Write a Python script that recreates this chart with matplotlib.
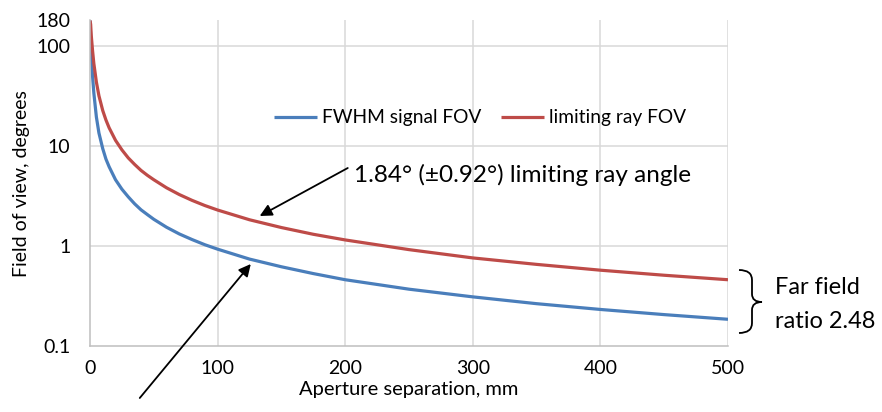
import matplotlib.pyplot as plt
from matplotlib.path import Path
from matplotlib.patches import PathPatch

# aperture separation, mm
sep = [0, 0.5, 1, 2, 3, 5, 7, 10, 12.5, 15, 20, 25, 30, 35, 40, 45, 50, 60, 70,
       80, 90, 100, 125, 150, 175, 200, 250, 300, 350, 400, 450, 500]
# FOV values, degrees
fwhm_fov = [180, 125, 86, 50, 34, 19.5, 13.5, 9.4, 7.4, 6.2, 4.6, 3.7, 3.1,
            2.64, 2.3, 2.06, 1.85, 1.54, 1.32, 1.16, 1.03, 0.93, 0.74, 0.62,
            0.53, 0.46, 0.37, 0.31, 0.265, 0.232, 0.206, 0.185]
limit_fov = [180, 165, 127, 90, 67, 43.6, 31.8, 22.6, 18.2, 15.2, 11.4, 9.15,
             7.6, 6.54, 5.7, 5.09, 4.6, 3.82, 3.27, 2.86, 2.54, 2.29, 1.83,
             1.53, 1.31, 1.15, 0.92, 0.76, 0.655, 0.573, 0.51, 0.46]

yticks = [0.1, 1, 10, 100, 180]
ytick_labels = ["0.1", "1", "10", "100", "180"]
xticks = [0, 100, 200, 300, 400, 500]

plt.rcParams['font.family'] = ['Lato', 'DejaVu Sans']

W, H = 882, 412
fig = plt.figure(figsize=(W / 100, H / 100), dpi=100)
ax = fig.add_axes([90 / W, 1 - 346 / H, 638 / W, (346 - 20.5) / H])

blue = "#4a7ebb"
red = "#be4b48"
ax.plot(sep, fwhm_fov, color=blue, lw=2.3, label="FWHM signal FOV", solid_capstyle="butt")
ax.plot(sep, limit_fov, color=red, lw=2.3, label="limiting ray FOV", solid_capstyle="butt")

ax.set_yscale("log")
ax.set_ylim(0.1, 180)
ax.set_xlim(0, 500)
ax.set_yticks(yticks)
ax.set_yticklabels(ytick_labels)
ax.yaxis.set_minor_locator(plt.NullLocator())
ax.set_xticks(xticks)
ax.tick_params(length=0, labelsize=14, colors="#000000")
ax.tick_params(axis="y", pad=14)
ax.tick_params(axis="x", pad=10)

ax.grid(True, color="#d9d9d9", lw=1.1)
ax.set_axisbelow(True)
ax.yaxis.get_gridlines()[-1].set_visible(False)
ax.yaxis.get_gridlines()[0].set_visible(False)
ax.xaxis.get_gridlines()[0].set_visible(False)
for s in ["top", "right"]:
    ax.spines[s].set_visible(False)
for s in ["left", "bottom"]:
    ax.spines[s].set_color("#bfbfbf")
    ax.spines[s].set_linewidth(1.1)

ax.set_xlabel("Aperture separation, mm", fontsize=14.5, labelpad=3)
ax.set_ylabel("Field of view, degrees", fontsize=14, labelpad=5)

leg = fig.legend(loc="center", bbox_to_anchor=(480 / W, 1 - 118 / H), ncol=2,
                 frameon=False, fontsize=13.8, handlelength=2.25, columnspacing=1.05,
                 handletextpad=0.26)

arrow = dict(arrowstyle="-|>", color="black", lw=1.3, mutation_scale=18,
             shrinkA=0, shrinkB=0)
ax.annotate("", xy=(133, 10 ** ((246 - 216) / 100)),
            xytext=(202, 10 ** ((246 - 168) / 100)), arrowprops=arrow)
ax.text(207, 10 ** ((246 - 175) / 100), "1.84° (±0.92°) limiting ray angle",
        fontsize=17.5, va="center", ha="left")
ax.annotate("", xy=(126, 10 ** ((246 - 264) / 100)),
            xytext=(39, 10 ** ((246 - 398) / 100)), arrowprops=arrow,
            annotation_clip=False)

# curly bracket on the right
def fp(x, y):
    return (x / W, 1 - y / H)

verts = [fp(739, 270), fp(752, 270), fp(752, 280),
         fp(752, 294), fp(752, 302), fp(762, 302),
         fp(752, 302), fp(752, 310), fp(752, 323),
         fp(752, 333), fp(739, 333)]
codes = [Path.MOVETO, Path.CURVE3, Path.CURVE3,
         Path.LINETO, Path.CURVE3, Path.CURVE3,
         Path.CURVE3, Path.CURVE3, Path.LINETO,
         Path.CURVE3, Path.CURVE3]
fig.patches.append(PathPatch(Path(verts, codes), transform=fig.transFigure,
                             fill=False, color="black", lw=1.3))
fig.text(775 / W, 1 - 288 / H, "Far field", fontsize=17, va="center", ha="left")
fig.text(775 / W, 1 - 321 / H, "ratio 2.48", fontsize=17, va="center", ha="left")

fig.savefig("out.png", dpi=100)
